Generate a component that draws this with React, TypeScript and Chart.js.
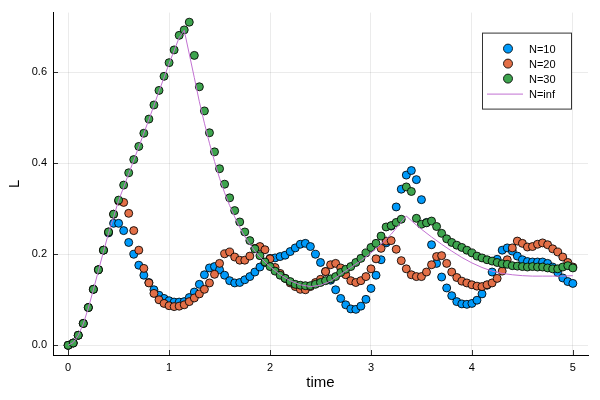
import { useEffect, useRef } from "react";
import { Chart, registerables } from "chart.js";

Chart.register(...registerables);

// sampled times (dt = 0.05)
const times = [
  0, 0.05, 0.1, 0.15, 0.2, 0.25, 0.3, 0.35, 0.4, 0.45,
  0.5, 0.55, 0.6, 0.65, 0.7, 0.75, 0.8, 0.85, 0.9, 0.95,
  1, 1.05, 1.1, 1.15, 1.2, 1.25, 1.3, 1.35, 1.4, 1.45,
  1.5, 1.55, 1.6, 1.65, 1.7, 1.75, 1.8, 1.85, 1.9, 1.95,
  2, 2.05, 2.1, 2.15, 2.2, 2.25, 2.3, 2.35, 2.4, 2.45,
  2.5, 2.55, 2.6, 2.65, 2.7, 2.75, 2.8, 2.85, 2.9, 2.95,
  3, 3.05, 3.1, 3.15, 3.2, 3.25, 3.3, 3.35, 3.4, 3.45,
  3.5, 3.55, 3.6, 3.65, 3.7, 3.75, 3.8, 3.85, 3.9, 3.95,
  4, 4.05, 4.1, 4.15, 4.2, 4.25, 4.3, 4.35, 4.4, 4.45,
  4.5, 4.55, 4.6, 4.65, 4.7, 4.75, 4.8, 4.85, 4.9, 4.95, 5,
];

const n10 = [
  0, 0.005, 0.022, 0.048, 0.083, 0.123, 0.166, 0.209, 0.247, 0.268,
  0.268, 0.252, 0.226, 0.2, 0.176, 0.154, 0.138, 0.122, 0.11, 0.103,
  0.098, 0.095, 0.095, 0.096, 0.105, 0.117, 0.134, 0.155, 0.17, 0.173,
  0.166, 0.154, 0.142, 0.137, 0.138, 0.144, 0.151, 0.161, 0.172, 0.182,
  0.191, 0.192, 0.195, 0.198, 0.206, 0.214, 0.222, 0.224, 0.217, 0.2,
  0.182, 0.162, 0.143, 0.122, 0.103, 0.089, 0.08, 0.079, 0.086, 0.101,
  0.125, 0.154, 0.188, 0.225, 0.262, 0.304, 0.343, 0.374, 0.384, 0.364,
  0.32, 0.27, 0.221, 0.18, 0.15, 0.126, 0.109, 0.096, 0.091, 0.09,
  0.092, 0.099, 0.113, 0.132, 0.161, 0.189, 0.209, 0.214, 0.207, 0.196,
  0.188, 0.184, 0.183, 0.183, 0.183, 0.18, 0.172, 0.16, 0.148, 0.14, 0.136,
];

const n20 = [
  0, 0.005, 0.022, 0.048, 0.083, 0.123, 0.166, 0.209, 0.249, 0.288,
  0.317, 0.314, 0.29, 0.252, 0.209, 0.169, 0.137, 0.114, 0.1, 0.092,
  0.087, 0.085, 0.086, 0.089, 0.096, 0.104, 0.113, 0.123, 0.137, 0.156,
  0.18, 0.201, 0.205, 0.194, 0.187, 0.187, 0.196, 0.213, 0.217, 0.21,
  0.19, 0.171, 0.158, 0.147, 0.137, 0.129, 0.123, 0.122, 0.129, 0.138,
  0.145, 0.162, 0.177, 0.18, 0.17, 0.155, 0.142, 0.138, 0.142, 0.151,
  0.168, 0.19, 0.213, 0.229, 0.23, 0.211, 0.186, 0.168, 0.155, 0.151,
  0.151, 0.161, 0.177, 0.195, 0.197, 0.18, 0.161, 0.149, 0.141, 0.137,
  0.133, 0.13, 0.129, 0.133, 0.137, 0.147, 0.163, 0.188, 0.214, 0.229,
  0.224, 0.216, 0.217, 0.222, 0.225, 0.221, 0.212, 0.205, 0.194, 0.182, 0.172,
];

const n30 = [
  0, 0.005, 0.022, 0.048, 0.083, 0.123, 0.166, 0.209, 0.249, 0.288,
  0.319, 0.352, 0.379, 0.408, 0.437, 0.466, 0.497, 0.528, 0.56, 0.591,
  0.621, 0.649, 0.681, 0.693, 0.71, 0.637, 0.568, 0.515, 0.467, 0.425,
  0.388, 0.354, 0.324, 0.296, 0.271, 0.249, 0.23, 0.212, 0.197, 0.183,
  0.173, 0.163, 0.154, 0.147, 0.14, 0.134, 0.132, 0.131, 0.131, 0.134,
  0.138, 0.142, 0.146, 0.151, 0.16, 0.167, 0.173, 0.182, 0.191, 0.203,
  0.215, 0.224, 0.24, 0.26, 0.263, 0.27, 0.277, 0.348, 0.338, 0.279,
  0.266, 0.269, 0.273, 0.261, 0.246, 0.234, 0.226, 0.22, 0.215, 0.209,
  0.203, 0.196, 0.192, 0.188, 0.185, 0.182, 0.179, 0.178, 0.175, 0.174,
  0.173, 0.172, 0.173, 0.172, 0.172, 0.17, 0.168, 0.168, 0.172, 0.175, 0.17,
];

// N = inf curve
const infTimes = [
  0, 0.05, 0.1, 0.15, 0.2, 0.25, 0.3, 0.35, 0.4, 0.5, 0.6, 0.7, 0.8, 0.9, 1, 1.1,
  1.15, 1.2, 1.25, 1.3, 1.35, 1.4, 1.45, 1.5, 1.55, 1.6, 1.65, 1.7, 1.75, 1.8,
  1.85, 1.9, 1.95, 2, 2.1, 2.2, 2.3, 2.4, 2.5, 2.6, 2.7, 2.8, 2.9, 3, 3.1, 3.2,
  3.3, 3.35, 3.4, 3.45, 3.5, 3.6, 3.7, 3.8, 3.9, 4, 4.1, 4.2, 4.3, 4.4, 4.5,
  4.6, 4.7, 4.8, 4.9, 5,
];
const infValues = [
  0, 0.006, 0.022, 0.047, 0.082, 0.122, 0.164, 0.206, 0.246, 0.318, 0.377, 0.436, 0.496, 0.558, 0.619, 0.676,
  0.692, 0.64, 0.588, 0.535, 0.488, 0.444, 0.404, 0.367, 0.335, 0.307, 0.282, 0.259, 0.239, 0.222,
  0.207, 0.194, 0.183, 0.173, 0.155, 0.142, 0.133, 0.129, 0.132, 0.141, 0.156, 0.171, 0.186, 0.203, 0.222, 0.244,
  0.271, 0.284, 0.274, 0.264, 0.255, 0.238, 0.222, 0.207, 0.193, 0.181, 0.171, 0.163, 0.158, 0.155, 0.153,
  0.152, 0.152, 0.152, 0.152, 0.153,
];

const xTicks = [0, 1, 2, 3, 4, 5];
const yTicks = [0, 0.2, 0.4, 0.6];
const labels = ["N=10", "N=20", "N=30", "N=inf"];
const colors = ["#009afa", "#e36f47", "#3ea44e", "#c271d2"];

const FONT = "'Liberation Sans', Arial, sans-serif";

// GR style ticks point inward
const innerTicks = {
  id: "innerTicks",
  afterDraw(chart: any) {
    const { ctx, chartArea, scales } = chart;
    ctx.save();
    ctx.strokeStyle = "rgba(0,0,0,0.8)";
    ctx.lineWidth = 1;
    ctx.beginPath();
    scales.x.ticks.forEach((t: any) => {
      const px = Math.round(scales.x.getPixelForValue(t.value)) + 0.5;
      ctx.moveTo(px, chartArea.bottom);
      ctx.lineTo(px, chartArea.bottom - 5);
    });
    scales.y.ticks.forEach((t: any) => {
      const py = Math.round(scales.y.getPixelForValue(t.value)) + 0.5;
      ctx.moveTo(chartArea.left, py);
      ctx.lineTo(chartArea.left + 5, py);
    });
    ctx.stroke();
    ctx.restore();
  },
};

const legendBox = {
  id: "legendBox",
  afterDraw(chart: any) {
    const { ctx, chartArea } = chart;
    const x0 = chartArea.right - 106;
    const y0 = chartArea.top + 20;
    ctx.save();
    ctx.fillStyle = "#fff";
    ctx.fillRect(x0, y0, 89, 76);
    ctx.strokeStyle = "#333";
    ctx.lineWidth = 1;
    ctx.strokeRect(x0 + 0.5, y0 + 0.5, 89, 76);
    ctx.font = `11px ${FONT}`;
    ctx.textBaseline = "middle";
    ctx.textAlign = "left";
    chart.data.datasets.forEach((ds: any, i: number) => {
      const y = y0 + 16 + i * 15;
      if (ds.showLine) {
        ctx.strokeStyle = ds.borderColor;
        ctx.beginPath();
        ctx.moveTo(x0 + 5, y + 0.5);
        ctx.lineTo(x0 + 41, y + 0.5);
        ctx.stroke();
      } else {
        ctx.fillStyle = ds.pointBackgroundColor;
        ctx.strokeStyle = "rgba(0,0,0,0.85)";
        ctx.beginPath();
        ctx.arc(x0 + 26, y, 4.5, 0, Math.PI * 2);
        ctx.fill();
        ctx.stroke();
      }
      ctx.fillStyle = "#000";
      ctx.fillText(ds.label, x0 + 47, y + 1);
    });
    ctx.restore();
  },
};

const App = () => {
  const chartRef = useRef<HTMLCanvasElement>(null);

  useEffect(() => {
    document.body.style.margin = "0";
    const ctx = chartRef.current!.getContext("2d")!;
    const series = [n10, n20, n30].map((vals, i) => ({
      label: labels[i],
      data: times.map((t, j) => ({ x: t, y: vals[j] })),
      showLine: false,
      pointRadius: 4,
      pointBorderWidth: 1,
      pointBackgroundColor: colors[i],
      pointBorderColor: "rgba(0,0,0,0.85)",
      order: 3 - i,
    }));
    const myChart = new Chart(ctx, {
      type: "scatter",
      data: {
        datasets: [
          ...series,
          {
            label: labels[3],
            data: infTimes.map((t, j) => ({ x: t, y: infValues[j] })),
            showLine: true,
            borderColor: colors[3],
            borderWidth: 1,
            pointRadius: 0,
            order: 0,
          },
        ] as any,
      },
      options: {
        animation: false,
        responsive: false,
        layout: { padding: { top: 12, right: 12, left: 0, bottom: 0 } },
        plugins: {
          legend: { display: false },
          tooltip: { enabled: false },
        },
        scales: {
          x: {
            type: "linear",
            min: -0.15,
            max: 5.15,
            afterBuildTicks: (s: any) => {
              s.ticks = xTicks.map((v) => ({ value: v }));
            },
            afterFit: (s: any) => {
              s.height = 45;
            },
            grid: { color: "rgba(0,0,0,0.08)", drawTicks: false },
            border: { color: "#000", width: 1 },
            ticks: {
              padding: 6,
              color: "#000",
              font: { family: FONT, size: 11 },
              callback: (v: any) => String(v),
            },
            title: {
              display: true,
              text: "time",
              color: "#000",
              font: { family: FONT, size: 15 },
              padding: { top: 0, bottom: 8 },
            },
          },
          y: {
            type: "linear",
            min: -0.0213,
            max: 0.731,
            afterBuildTicks: (s: any) => {
              s.ticks = yTicks.map((v) => ({ value: v }));
            },
            afterFit: (s: any) => {
              s.width = 53;
            },
            grid: { color: "rgba(0,0,0,0.08)", drawTicks: false },
            border: { color: "#000", width: 1 },
            ticks: {
              padding: 6,
              color: "#000",
              font: { family: FONT, size: 11 },
              callback: (v: any) => Number(v).toFixed(1),
            },
            title: {
              display: true,
              text: "L",
              color: "#000",
              font: { family: FONT, size: 15 },
              padding: { top: 6, bottom: 0 },
            },
          },
        },
      },
      plugins: [innerTicks, legendBox],
    });

    return () => {
      myChart.destroy();
    };
  }, []);

  return (
    <div style={{ width: 600, height: 400 }}>
      <canvas ref={chartRef} width={600} height={400} />
    </div>
  );
};

export default App;
